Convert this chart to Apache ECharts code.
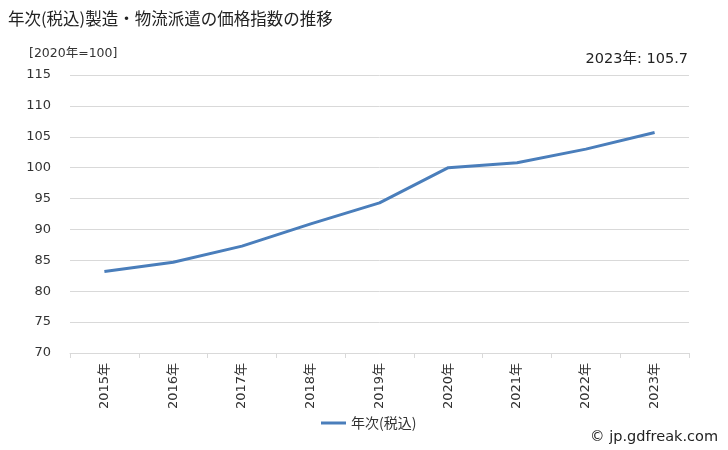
<!DOCTYPE html>
<html><head><meta charset="utf-8">
<script src="https://cdn.jsdelivr.net/npm/echarts@6/dist/echarts.min.js"></script>
<style>html,body{margin:0;padding:0;background:#fff}#c{width:728px;height:450px}</style>
</head><body><div id="c"></div>
<script>
const categories = ['2015年','2016年','2017年','2018年','2019年','2020年','2021年','2022年','2023年'];
const values = [83.2, 84.7, 87.3, 90.9, 94.3, 100.0, 100.8, 103.0, 105.7];
const seriesName = '年次(税込)';
const titleText = '年次(税込)製造・物流派遣の価格指数の推移';
const unitText = '[2020年=100]';
const latestText = '2023年: 105.7';
const creditText = '© jp.gdfreak.com';

const font = '"DejaVu Sans", "Noto Sans CJK JP", sans-serif';
const cjk = '"Noto Sans CJK JP", sans-serif';
const chart = echarts.init(document.getElementById('c'), null, {renderer:'canvas'});
chart.setOption({
  animation:false,
  textStyle:{fontFamily:font},
  graphic:[
    {type:'text', left:8, top:10, style:{text:titleText, font:'16.5px '+cjk, fill:'#222'}},
    {type:'text', left:29, top:47, style:{text:unitText, font:'12.5px '+font, fill:'#333'}},
    {type:'text', right:40, top:52, style:{text:latestText, font:'14.5px '+font, fill:'#222'}},
    {type:'text', right:10, top:430, style:{text:creditText, font:'14.5px '+font, fill:'#222'}}
  ],
  grid:{left:70, right:39, top:75, bottom:97},
  legend:{bottom:15, left:316, itemWidth:25, itemHeight:3, icon:'rect', itemGap:4,
    textStyle:{fontSize:14, color:'#333', fontFamily:cjk}, data:[seriesName]},
  xAxis:{type:'category', data:categories, boundaryGap:true,
    axisLine:{lineStyle:{color:'#d9d9d9'}},
    axisTick:{show:true, alignWithLabel:false, length:5, lineStyle:{color:'#d9d9d9'}},
    axisLabel:{rotate:90, fontSize:13, color:'#333', margin:10, fontFamily:font}},
  yAxis:{type:'value', min:70, max:115, interval:5,
    axisLine:{show:false}, axisTick:{show:false},
    splitLine:{lineStyle:{color:'#d9d9d9'}},
    axisLabel:{fontSize:13, color:'#333', margin:19, fontFamily:font}},
  series:[{name:seriesName, type:'line', data:values, showSymbol:false, symbol:'none',
    lineStyle:{color:'#4a7ebb', width:3}, itemStyle:{color:'#4a7ebb'}}]
});
</script></body></html>
